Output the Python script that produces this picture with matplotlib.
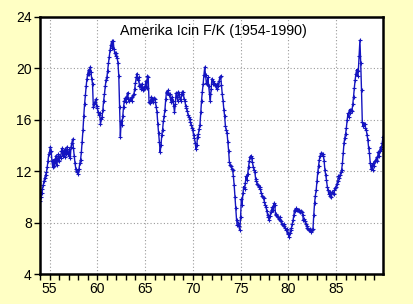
import numpy as np
import matplotlib
matplotlib.use("Agg")
import matplotlib.pyplot as plt
from matplotlib.ticker import MultipleLocator

plt.rcParams["font.family"] = ["Liberation Sans", "DejaVu Sans"]

# monthly P/E readings, one row per year (1954..1989)
pe_by_year = [
    [9.7, 10.0, 10.3, 10.6, 10.9, 11.2, 11.5, 11.7, 11.9, 12.3, 12.8, 13.3],   # 54
    [13.5, 13.9, 13.6, 12.8, 12.3, 12.9, 12.4, 12.7, 13.2, 12.5, 12.9, 13.3],  # 55
    [12.8, 13.2, 13.0, 13.6, 13.8, 13.2, 13.6, 13.1, 13.7, 13.3, 13.9, 13.4],  # 56
    [13.2, 13.7, 13.0, 13.9, 14.2, 14.5, 13.8, 13.2, 12.6, 12.2, 11.9, 12.0],  # 57
    [11.8, 12.2, 12.6, 12.9, 13.5, 14.3, 15.2, 16.3, 17.2, 17.9, 18.6, 19.2],  # 58
    [19.6, 19.9, 19.6, 20.1, 19.7, 19.2, 18.8, 17.0, 17.2, 17.4, 17.6, 17.1],  # 59
    [16.9, 16.6, 16.4, 16.5, 15.7, 16.1, 16.2, 16.8, 17.5, 18.0, 18.6, 19.1],  # 60
    [19.3, 19.8, 20.4, 20.9, 21.4, 21.8, 22.1, 21.6, 22.1, 21.5, 21.2, 21.0],  # 61
    [21.2, 20.8, 20.4, 19.4, 17.0, 14.7, 15.9, 15.6, 16.3, 17.0, 17.5, 17.7],  # 62
    [17.4, 17.8, 18.1, 17.6, 17.5, 17.6, 17.7, 17.5, 17.8, 17.9, 18.0, 18.4],  # 63
    [18.9, 19.3, 19.6, 19.1, 19.3, 18.6, 18.7, 18.4, 18.8, 18.3, 18.5, 18.4],  # 64
    [18.6, 19.0, 18.5, 19.4, 19.3, 17.4, 17.3, 17.5, 17.8, 17.6, 17.4, 17.7],  # 65
    [17.6, 17.4, 17.0, 16.6, 15.7, 15.0, 14.3, 13.5, 14.0, 14.8, 15.2, 15.9],  # 66
    [16.3, 16.8, 17.6, 18.2, 18.1, 18.3, 17.9, 18.0, 17.6, 17.4, 17.8, 17.5],  # 67
    [17.1, 16.6, 17.2, 18.1, 17.8, 17.5, 18.2, 18.0, 17.6, 17.5, 18.0, 18.2],  # 68
    [18.2, 17.6, 17.5, 17.1, 16.9, 16.7, 16.4, 16.2, 16.1, 15.8, 15.6, 15.4],  # 69
    [15.2, 14.8, 14.6, 14.2, 13.7, 14.0, 14.7, 14.9, 15.3, 15.6, 16.6, 17.5],  # 70
    [18.2, 18.8, 19.5, 20.1, 19.5, 18.9, 18.8, 19.3, 18.6, 18.0, 17.5, 18.4],  # 71
    [19.2, 19.0, 18.8, 18.9, 18.7, 18.6, 18.4, 18.8, 18.6, 19.0, 19.3, 19.4],  # 72
    [18.7, 18.0, 17.5, 16.8, 16.3, 15.5, 15.2, 15.0, 14.3, 13.6, 12.7, 12.5],  # 73
    [12.4, 12.2, 12.1, 11.6, 10.9, 10.0, 9.1, 8.2, 7.8, 8.0, 7.7, 7.4],        # 74
    [8.4, 9.8, 9.4, 10.3, 10.8, 10.6, 11.1, 11.6, 11.3, 11.8, 12.3, 12.8],     # 75
    [13.1, 13.2, 13.0, 12.7, 12.3, 12.1, 11.9, 11.4, 11.2, 11.0, 10.9, 10.8],  # 76
    [10.8, 10.6, 10.3, 10.1, 10.0, 9.9, 9.6, 9.4, 9.2, 8.9, 8.6, 8.4],         # 77
    [8.2, 8.5, 8.8, 9.0, 9.2, 9.0, 9.5, 9.4, 8.6, 8.7, 8.5, 8.4],              # 78
    [8.3, 8.4, 8.2, 8.1, 7.9, 7.8, 7.9, 7.7, 7.6, 7.4, 7.5, 7.2],              # 79
    [7.1, 6.9, 7.2, 7.4, 7.6, 7.9, 8.2, 8.6, 9.0, 8.9, 9.1, 9.0],              # 80
    [9.0, 8.9, 9.0, 8.8, 8.9, 8.8, 8.6, 8.2, 8.3, 8.1, 7.9, 7.7],              # 81
    [7.6, 7.5, 7.4, 7.5, 7.3, 7.4, 7.4, 7.5, 8.6, 9.5, 10.1, 10.5],            # 82
    [11.2, 11.9, 12.4, 12.9, 13.2, 13.4, 13.3, 13.2, 13.3, 12.8, 12.1, 11.7],  # 83
    [11.3, 10.8, 10.5, 10.2, 10.4, 10.1, 10.0, 10.4, 10.3, 10.2, 10.5, 10.7],  # 84
    [10.8, 11.0, 11.2, 11.6, 11.5, 11.7, 11.9, 12.1, 12.6, 13.4, 14.2, 14.6],  # 85
    [14.9, 15.4, 16.0, 16.5, 16.2, 16.8, 16.5, 16.8, 16.7, 17.2, 17.8, 18.5],  # 86
    [19.1, 19.6, 19.9, 19.4, 19.8, 21.0, 22.2, 20.4, 18.3, 15.8, 15.5, 15.7],  # 87
    [15.7, 15.4, 15.2, 14.8, 14.4, 13.8, 13.4, 12.6, 12.2, 12.5, 12.1, 12.6],  # 88
    [12.4, 12.8, 12.9, 13.1, 12.8, 13.5, 13.2, 13.6, 13.9, 13.7, 14.2, 14.7],  # 89
]
first_year = 54
title = "Amerika Icin F/K (1954-1990)"
y_ticks = [4, 8, 12, 16, 20, 24]
x_ticks = [55, 60, 65, 70, 75, 80, 85]

values = np.concatenate(pe_by_year)
dates = first_year + np.arange(len(values)) / 12.0

BG = "#FFFFC4"
fig = plt.figure(figsize=(4.14, 3.04), dpi=100, facecolor=BG)
ax = fig.add_axes([40 / 414, 30 / 304, 343 / 414, 257 / 304])
ax.set_facecolor("white")

ax.plot(dates, values, color="#1414C0", lw=1.0, marker="+", ms=3.5, mew=0.8)

ax.set_xlim(first_year, dates[-1])
ax.set_ylim(y_ticks[0], y_ticks[-1])
ax.set_yticks(y_ticks)
ax.set_xticks(x_ticks)
ax.xaxis.set_minor_locator(MultipleLocator(1))
ax.grid(True, which="major", color="#9a9a9a", linestyle=(0, (1, 2)), lw=0.8)

for s in ax.spines.values():
    s.set_linewidth(1.8)
    s.set_color("black")
ax.tick_params(axis="both", which="major", direction="out", length=4, width=1,
               labelsize=10, pad=2)
ax.tick_params(axis="x", which="minor", direction="out", length=4, width=1)

ax.text(0.505, 0.945, title, transform=ax.transAxes, ha="center", va="center",
        fontsize=10.3)

fig.savefig("out.png", dpi=100, facecolor=BG)
